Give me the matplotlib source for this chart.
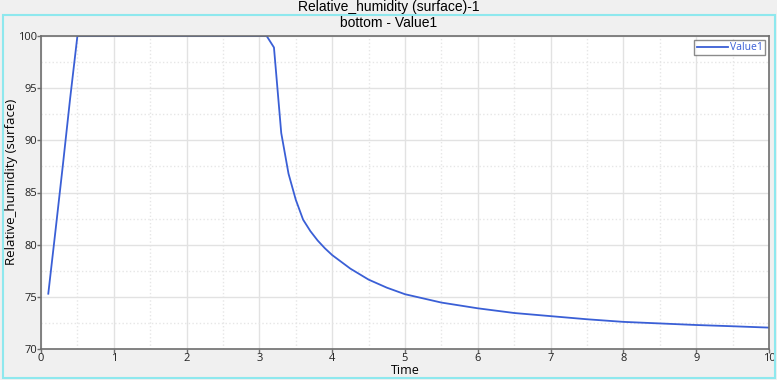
import numpy as np
import matplotlib
matplotlib.use('Agg')
import matplotlib.pyplot as plt
from matplotlib.ticker import MultipleLocator
from matplotlib.patches import Rectangle

# Данные
time = [0.1, 0.2, 0.3, 0.4, 0.5, 3.1, 3.2, 3.3, 3.4, 3.5, 3.6, 3.7, 3.8, 3.9, 4.0,
        4.25, 4.5, 4.75, 5.0, 5.5, 6.0, 6.5, 7.0, 7.5, 8.0, 8.5, 9.0, 9.5, 10.0]
value1 = [75.3, 81.4, 87.6, 94.0, 100.0, 100.0, 98.9, 90.7, 86.8, 84.3, 82.4, 81.3, 80.4, 79.65, 79.0,
          77.7, 76.65, 75.88, 75.25, 74.45, 73.9, 73.45, 73.15, 72.85, 72.6, 72.45, 72.3, 72.18, 72.05]

title_main = "Relative_humidity (surface)-1"
title_sub = "bottom - Value1"
x_label = "Time"
y_label = "Relative_humidity (surface)"

fig = plt.figure(figsize=(7.77, 3.80), dpi=100, facecolor='#f0f0f0')
ax = fig.add_axes([41 / 777, 1 - 349 / 380, 728 / 777, 313 / 380])
ax.set_facecolor('white')

ax.plot(time, value1, color='#3a5fd6', linewidth=1.3, label='Value1')

ax.set_xlim(0, 10)
ax.set_ylim(70, 100)
ax.xaxis.set_major_locator(MultipleLocator(1))
ax.xaxis.set_minor_locator(MultipleLocator(0.5))
ax.yaxis.set_major_locator(MultipleLocator(5))
ax.yaxis.set_minor_locator(MultipleLocator(2.5))
ax.grid(True, which='major', color='#e2e2e2', linewidth=1)
ax.grid(True, which='minor', color='#e6e6e6', linestyle=':', linewidth=1)
ax.set_axisbelow(True)

for s in ax.spines.values():
    s.set_color('#6e6e6e')
    s.set_linewidth(1.2)

ax.tick_params(which='major', length=3, width=1, color='#6e6e6e', labelsize=8, pad=0,
               labelcolor='#222222')
ax.tick_params(which='minor', length=0)
for lbl in ax.get_xticklabels() + ax.get_yticklabels():
    lbl.set_family('Open Sans')

# подписи осей вручную, чтобы не обрезались
fig.text(405 / 777, 1 - 370.5 / 380, x_label, ha='center', va='center', fontsize=9,
         family='Open Sans')
fig.text(12 / 777, 1 - 182 / 380, y_label, ha='center', va='center', rotation=90,
         fontsize=9.5, family='Open Sans')

fig.text(0.5, 1 - 7 / 380, title_main, ha='center', va='center', fontsize=10,
         family='Liberation Sans')
fig.text(0.5, 1 - 23 / 380, title_sub, ha='center', va='center', fontsize=10,
         family='Liberation Sans')

leg = ax.legend(loc='upper right', frameon=True, fancybox=False,
                borderpad=0.2, handlelength=3, handletextpad=0.2, borderaxespad=0.4,
                prop={'family': 'Open Sans', 'size': 7.5})
leg.get_frame().set_edgecolor('#6e6e6e')
leg.get_frame().set_linewidth(1)
for t in leg.get_texts():
    t.set_color('#3a5fd6')

# голубая рамка вокруг области графика
fig.patches.append(Rectangle((3 / 777, 2 / 380), 772 / 777, 363 / 380, transform=fig.transFigure,
                             fill=False, edgecolor='#8ee8ee', linewidth=1.5))

fig.savefig('out.png', dpi=100, facecolor=fig.get_facecolor())
